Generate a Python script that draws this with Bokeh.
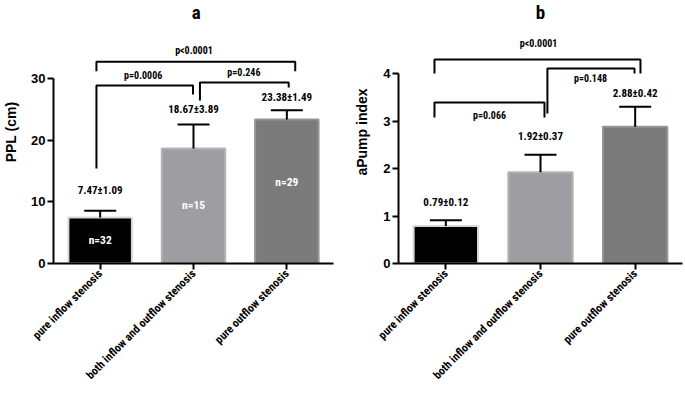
import math
from bokeh.plotting import figure
from bokeh.layouts import row
from bokeh.models import ColumnDataSource, Whisker, TeeHead, FactorRange, FixedTicker, Range1d
from bokeh.embed import file_html
from bokeh.resources import INLINE
from bokeh.core.properties import value

# ---------------- data ----------------
categories = ["pure inflow stenosis", "both inflow and outflow stenosis", "pure outflow stenosis"]
ppl_mean = [7.47, 18.67, 23.38]
ppl_sd = [1.09, 3.89, 1.49]
ppl_n = [32, 15, 29]
apump_mean = [0.79, 1.92, 2.88]
apump_sd = [0.12, 0.37, 0.42]
ppl_ticks = [0, 10, 20, 30]
apump_ticks = [0, 1, 2, 3, 4]
ppl_pvalues = ["p<0.0001", "p=0.0006", "p=0.246"]
apump_pvalues = ["p<0.0001", "p=0.148", "p=0.066"]
panel_titles = ["a", "b"]

# ---------------- layout / style ----------------
NARROW = ("'Noto Sans ExtraCondensed', 'Roboto Condensed', 'Noto Sans Condensed', "
          "'DejaVu Sans Condensed', sans-serif")
SANS = "'Liberation Sans', Arial, sans-serif"
bar_fill = ["#000000", "#9e9ea2", "#7b7b7b"]
bar_edge = ["#d6d6d6", "#b4b4b6", "#959595"]

# bracket geometry: x_left, x_right, y_top, y_left_end, y_right_end, text_x, text_y
ppl_brackets = [
    (0.46, 2.59, 32.73, 31.2, 31.2, 1.505, 34.49),
    (0.46, 1.495, 28.88, 15.4, 27.43, 0.961, 30.48),
    (1.569, 2.52, 29.36, 26.47, 28.56, 2.04, 30.96),
]
apump_brackets = [
    (0.38, 2.556, 4.295, 4.00, 4.00, 1.479, 4.63),
    (1.573, 2.493, 4.105, 3.158, 4.00, 2.028, 3.90),
    (0.38, 1.542, 3.389, 3.074, 3.074, 0.961, 3.116),
]
ppl_label_y = [11.9, 25.0, 27.0]
ppl_n_y = [3.85, 9.47, 13.3]
apump_label_y = [1.28, 2.67, 3.58]


def make_panel(title, title_xy, ylabel, means, sds, ticks, ymax, pvals, brackets, label_y,
               width, left, right, bottom, label_standoff, n=None, n_y=None):
    p = figure(x_range=FactorRange(*categories), y_range=Range1d(0, ymax),
               width=width, height=407, output_backend="svg", toolbar_location=None,
               min_border_left=left, min_border_right=right, min_border_top=0,
               min_border_bottom=bottom)
    p.outline_line_color = None
    p.xgrid.visible = False
    p.ygrid.visible = False
    p.background_fill_color = "white"

    src = ColumnDataSource(dict(
        x=categories, top=means, hi=[m + s for m, s in zip(means, sds)],
        fill=bar_fill, edge=bar_edge,
        lab=[f"{m:.2f}\u00b1{s:.2f}" for m, s in zip(means, sds)], ly=label_y,
    ))
    p.vbar(x="x", top="top", width=0.68, fill_color="fill", line_color="edge",
           line_width=2, source=src)
    wh = Whisker(source=src, base="x", lower="top", upper="hi", line_width=2,
                 line_color="black",
                 upper_head=TeeHead(size=32, line_width=2, line_color="black"),
                 lower_head=None, level="overlay")
    p.add_layout(wh)
    p.text(x="x", y="ly", text="lab", source=src, text_align="center",
           text_baseline="middle", text_font=value(NARROW), text_font_size="11px",
           text_font_style="bold", text_color="black")
    if n is not None:
        nsrc = ColumnDataSource(dict(x=categories, y=n_y, t=[f"n={v}" for v in n]))
        p.text(x="x", y="y", text="t", source=nsrc, text_align="center",
               text_baseline="middle", text_font=value(NARROW), text_font_size="11.5px",
               text_font_style="bold", text_color="white")

    xs, ys, tx, ty = [], [], [], []
    for (xl, xr, yt, yl, yr, txx, tyy) in brackets:
        xs.append([xl, xl, xr, xr])
        ys.append([yl, yt, yt, yr])
        tx.append(txx)
        ty.append(tyy)
    p.multi_line(xs=xs, ys=ys, line_color="black", line_width=2)
    p.text(x=tx, y=ty, text=pvals, text_align="center", text_baseline="middle",
           text_font=value(NARROW), text_font_size="10px", text_font_style="bold",
           text_color="black")
    # panel letter
    p.text(x=[title_xy[0]], y=[title_xy[1]], text=[title], text_align="center",
           text_baseline="middle", text_font=value(NARROW), text_font_size="19px",
           text_font_style="bold", text_color="black")

    ya = p.yaxis[0]
    ya.ticker = FixedTicker(ticks=ticks)
    ya.bounds = (ticks[0], ticks[-1])
    ya.axis_line_width = 2
    ya.axis_line_color = "black"
    ya.major_tick_line_width = 2
    ya.major_tick_line_color = "black"
    ya.major_tick_out = 6
    ya.major_tick_in = 0
    ya.minor_tick_line_color = None
    ya.major_label_text_font = SANS
    ya.major_label_text_font_style = "bold"
    ya.major_label_text_font_size = "13px"
    ya.major_label_text_color = "black"
    ya.major_label_standoff = 2
    ya.axis_label = ylabel
    ya.axis_label_text_font = SANS
    ya.axis_label_text_font_style = "bold"
    ya.axis_label_text_font_size = "14px"
    ya.axis_label_text_color = "black"
    ya.axis_label_standoff = label_standoff

    xa = p.xaxis[0]
    xa.axis_line_width = 2
    xa.axis_line_color = "black"
    xa.major_tick_line_width = 2
    xa.major_tick_line_color = "black"
    xa.major_tick_out = 6
    xa.major_tick_in = 0
    xa.minor_tick_line_color = None
    xa.major_label_orientation = math.pi / 4
    xa.major_label_text_font = NARROW
    xa.major_label_text_font_style = "bold"
    xa.major_label_text_font_size = "11.5px"
    xa.major_label_text_color = "black"
    xa.major_label_standoff = 2
    return p


pa = make_panel(panel_titles[0], (1.53, 40.75), "PPL (cm)", ppl_mean, ppl_sd, ppl_ticks, 42.68,
                ppl_pvalues, ppl_brackets, ppl_label_y, 343, 52, 10, 141, 9,
                n=ppl_n, n_y=ppl_n_y)
pb = make_panel(panel_titles[1], (1.50, 5.28), "aPump index", apump_mean, apump_sd, apump_ticks,
                5.537, apump_pvalues, apump_brackets, apump_label_y, 342, 55, 3, 144, 10)

layout = row(pa, pb)
open("out.html", "w").write(file_html(layout, INLINE))
